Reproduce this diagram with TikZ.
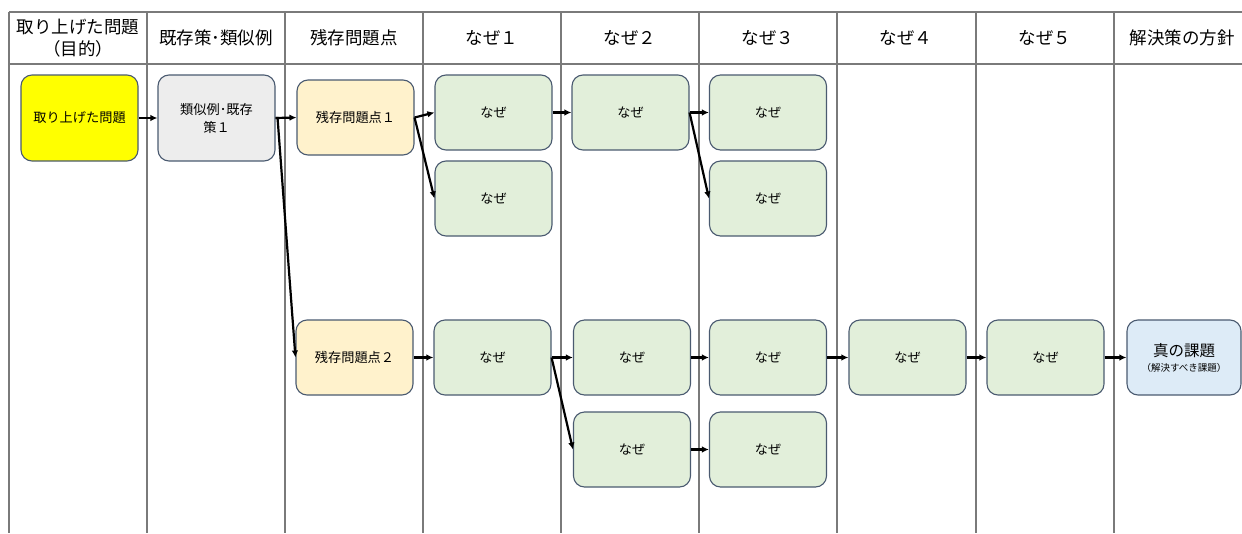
\documentclass[tikz,border=0pt]{standalone}
\usepackage{fontspec}
\newfontfamily\jp{Noto Sans CJK JP}
\usetikzlibrary{arrows.meta}
\definecolor{bd}{HTML}{4A5A70}
\definecolor{cyel}{HTML}{FFFF00}
\definecolor{cgray}{HTML}{EDEDED}
\definecolor{cpeach}{HTML}{FFF2CC}
\definecolor{cgreen}{HTML}{E2EFDA}
\definecolor{cblue}{HTML}{DDEBF7}
\definecolor{grid}{HTML}{7A7A7A}
\tikzset{
  box/.style={draw=bd, line width=1.1pt, rounded corners=11pt, minimum width=117pt,
    minimum height=75pt, inner sep=0pt, align=center, text=black,
    font=\jp\fontsize{13.2}{18}\selectfont},
  tall/.style={minimum height=86pt},
  hdr/.style={inner sep=0pt, align=center, font=\jp\fontsize{17.5}{22}\selectfont},
  gridline/.style={draw=grid, line width=1.5pt},
  arr/.style={draw=black, line width=2.2pt, -{Latex[length=7pt,width=6.5pt]}},
}
\begin{document}
\begin{tikzpicture}[x=1pt,y=-1pt]
\useasboundingbox (0,0) rectangle (1242,533);
% table
\draw[gridline] (9,12) -- (1242,12);
\draw[gridline] (9,64) -- (1242,64);
\foreach \xx in {9,147,285,423,561,699,837,976,1114}
  \draw[gridline] (\xx,12) -- (\xx,533);
% headers
\node[hdr] (h1) at (78,38) {取り上げた問題\\（目的）};
\node[hdr] (h2) at (216,38) {既存策･類似例};
\node[hdr] (h3) at (354,38) {残存問題点};
\node[hdr] (h4) at (492,38) {なぜ１};
\node[hdr] (h5) at (630,38) {なぜ２};
\node[hdr] (h6) at (768,38) {なぜ３};
\node[hdr] (h7) at (906,38) {なぜ４};
\node[hdr] (h8) at (1045,38) {なぜ５};
\node[hdr] (h9) at (1182,38) {解決策の方針};
% boxes
\node[box, tall, fill=cyel] (p0) at (79.5,118) {取り上げた問題};
\node[box, tall, fill=cgray] (s1) at (216.5,118) {類似例･既存\\策１};
\node[box, fill=cpeach] (r1) at (355.5,117.5) {残存問題点１};
\node[box, fill=cpeach] (r2) at (354.5,357.5) {残存問題点２};
\node[box, fill=cgreen] (w1a) at (493.5,112.5) {なぜ};
\node[box, fill=cgreen] (w1b) at (493.5,198.5) {なぜ};
\node[box, fill=cgreen] (w2a) at (630.5,112.5) {なぜ};
\node[box, fill=cgreen] (w3a) at (768,112.5) {なぜ};
\node[box, fill=cgreen] (w3b) at (768,198.5) {なぜ};
\node[box, fill=cgreen] (w1c) at (492.5,357.5) {なぜ};
\node[box, fill=cgreen] (w2c) at (632,357.5) {なぜ};
\node[box, fill=cgreen] (w2d) at (632,449.5) {なぜ};
\node[box, fill=cgreen] (w3c) at (768,357.5) {なぜ};
\node[box, fill=cgreen] (w3d) at (768,449.5) {なぜ};
\node[box, fill=cgreen] (w4) at (907.5,357.5) {なぜ};
\node[box, fill=cgreen] (w5) at (1045.5,357.5) {なぜ};
\node[box, fill=cblue, minimum width=114pt] (t) at (1184,357.5)
  {{\fontsize{15.5}{17}\selectfont 真の課題}\\[-3pt]{\fontsize{9.5}{11}\selectfont （解決すべき課題）}};
% arrows
\draw[arr] (p0.east) -- (s1.west);
\draw[arr] (s1.east) -- (r1.west);
\draw[arr] (s1.east) -- ++(2,0) -- (r2.west);
\draw[arr] (r1.east) -- (w1a.west);
\draw[arr] (r1.east) -- (w1b.west);
\draw[arr] (w1a.east) -- (w2a.west);
\draw[arr] (w2a.east) -- (w3a.west);
\draw[arr] (w2a.east) -- (w3b.west);
\draw[arr] (r2.east) -- (w1c.west);
\draw[arr] (w1c.east) -- (w2c.west);
\draw[arr] (w1c.east) -- (w2d.west);
\draw[arr] (w2c.east) -- (w3c.west);
\draw[arr] (w2d.east) -- (w3d.west);
\draw[arr] (w3c.east) -- (w4.west);
\draw[arr] (w4.east) -- (w5.west);
\draw[arr] (w5.east) -- (t.west);
\end{tikzpicture}
\end{document}
